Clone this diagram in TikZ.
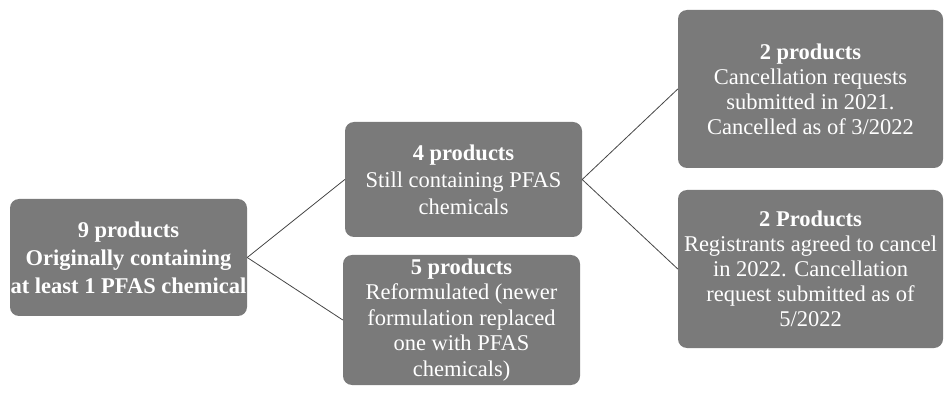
\documentclass[tikz,border=0pt]{standalone}
\usepackage{fontspec}
\setmainfont{Liberation Serif}
\definecolor{boxgray}{RGB}{122,122,122}
\definecolor{linegray}{RGB}{70,70,70}

\begin{document}
\begin{tikzpicture}[x=1pt,y=-1pt,
    box/.style={draw=none,fill=boxgray,rounded corners=9pt,text=white,align=center,
                inner sep=0pt,font=\fontsize{22.5}{27}\selectfont},
    link/.style={linegray,line width=0.8pt}]

    % fix the page size
    \useasboundingbox (0,0) rectangle (945,395);

    % boxes
    \node[box,minimum width=237pt,minimum height=117pt,font=\fontsize{22.5}{28}\selectfont\bfseries] (nine) at (128.5,257.5)
        {9 products\\Originally containing\\at least 1 PFAS chemical};
    \node[box,minimum width=237pt,minimum height=115pt] (still) at (463.5,179.5)
        {\textbf{4 products}\\Still containing PFAS\\chemicals};
    \node[box,minimum width=237pt,minimum height=130pt,font=\fontsize{22.5}{25.5}\selectfont] (reform) at (461.5,320)
        {\textbf{5 products}\\Reformulated (newer\\formulation replaced\\one with PFAS\\chemicals)};
    \node[box,minimum width=265pt,minimum height=158pt,font=\fontsize{22.5}{25}\selectfont] (cancelled) at (810.5,89)
        {\textbf{2 products}\\Cancellation requests\\submitted in 2021.\\Cancelled as of 3/2022};
    \node[box,minimum width=265pt,minimum height=158pt,font=\fontsize{22.5}{25}\selectfont] (agreed) at (810.5,269)
        {\textbf{2 Products}\\Registrants agreed to cancel\\in 2022. Cancellation\\request submitted as of\\5/2022};

    % connectors
    \draw[link] (nine.east) -- (still.west);
    \draw[link] (nine.east) -- (reform.west);
    \draw[link] (still.east) -- (cancelled.west);
    \draw[link] (still.east) -- (agreed.west);

\end{tikzpicture}
\end{document}
